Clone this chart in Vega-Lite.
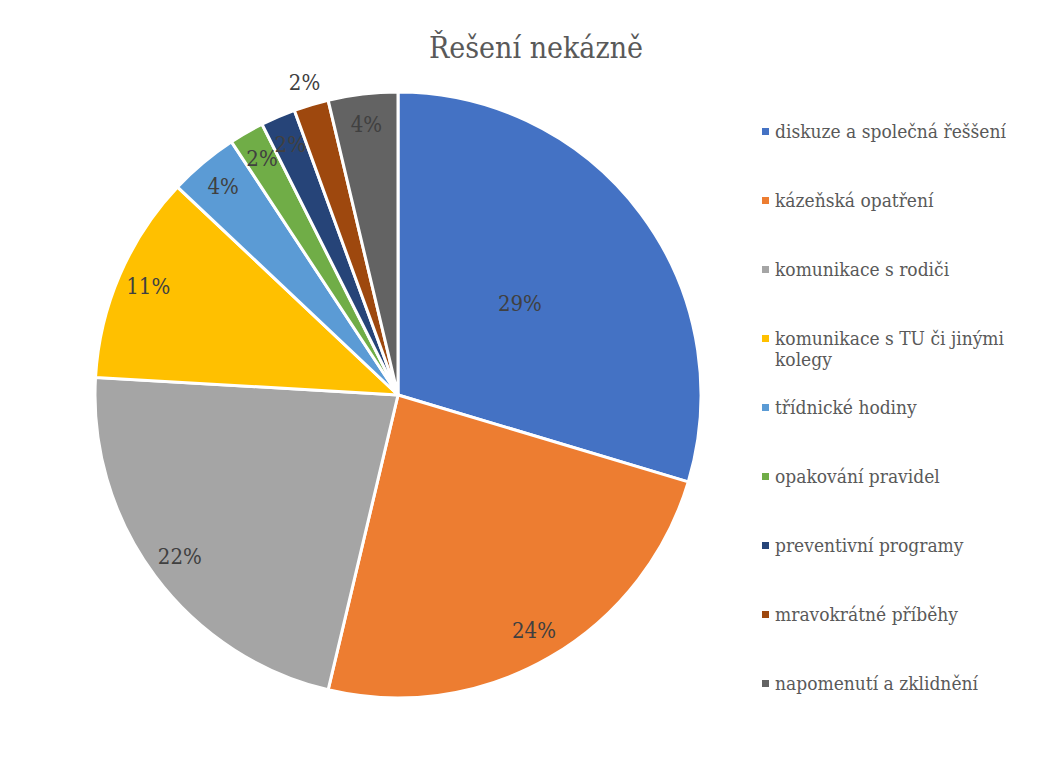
{
  "$schema": "https://vega.github.io/schema/vega-lite/v6.json",
  "width": 780,
  "height": 724,
  "padding": {"left": 8, "top": 33, "right": 0, "bottom": 0},
  "autosize": {"type": "pad"},
  "background": "white",
  "config": {"view": {"stroke": null}},
  "title": {
    "text": "Řešení nekázně",
    "font": "DejaVu Serif Condensed",
    "fontSize": 30,
    "fontWeight": "normal",
    "color": "#595959",
    "anchor": "middle",
    "dx": 138,
    "offset": 0,
    "dy": 55,
    "baseline": "alphabetic"
  },
  "data": {
    "values": [
      {"i": 1, "k": "diskuze a společná řeššení", "n": 16, "label": "29%"},
      {"i": 2, "k": "kázeňská opatření", "n": 13, "label": "24%"},
      {"i": 3, "k": "komunikace s rodiči", "n": 12, "label": "22%"},
      {"i": 4, "k": "komunikace s TU či jinými kolegy", "n": 6, "label": "11%"},
      {"i": 5, "k": "třídnické hodiny", "n": 2, "label": "4%"},
      {"i": 6, "k": "opakování pravidel", "n": 1, "label": "2%"},
      {"i": 7, "k": "preventivní programy", "n": 1, "label": "2%"},
      {"i": 8, "k": "mravokrátné příběhy", "n": 1, "label": "2%"},
      {"i": 9, "k": "napomenutí a zklidnění", "n": 2, "label": "4%"}
    ]
  },
  "encoding": {
    "theta": {"field": "n", "type": "quantitative", "stack": true},
    "order": {"field": "i", "type": "quantitative"}
  },
  "layer": [
    {
      "mark": {"type": "arc", "outerRadius": 303, "stroke": "white", "strokeWidth": 3},
      "encoding": {
        "color": {
          "field": "k",
          "type": "nominal",
          "scale": {
            "domain": ["diskuze a společná řeššení", "kázeňská opatření", "komunikace s rodiči", "komunikace s TU či jinými kolegy", "třídnické hodiny", "opakování pravidel", "preventivní programy", "mravokrátné příběhy", "napomenutí a zklidnění"],
            "range": ["#4472C4", "#ED7D31", "#A5A5A5", "#FFC000", "#5B9BD5", "#70AD47", "#264478", "#9E480E", "#636363"]
          },
          "legend": {
            "orient": "none",
            "legendX": 748,
            "legendY": 89,
            "title": null,
            "symbolType": "square",
            "symbolSize": 49,
            "symbolStrokeWidth": 0,
            "labelFont": "DejaVu Serif Condensed",
            "labelFontSize": 19,
            "labelColor": "#595959",
            "labelOffset": 0,
            "labelLimit": 400,
            "rowPadding": 28,
            "padding": 0,
            "labelExpr": "datum.label == 'komunikace s TU či jinými kolegy' ? ['komunikace s TU či jinými', 'kolegy'] : [datum.label, '']"
          }
        }
      }
    },
    {
      "mark": {"type": "text", "radius": 272, "fontSize": 22, "font": "DejaVu Serif Condensed", "align": "center", "baseline": "middle"},
      "encoding": {
        "detail": {"field": "k", "type": "nominal"},
        "color": {"value": "#404040"},
        "text": {"condition": {"test": "datum.i != 1 && datum.i != 8", "field": "label"}, "value": ""}
      }
    },
    {
      "mark": {"type": "text", "radius": 152, "fontSize": 22, "font": "DejaVu Serif Condensed", "align": "center", "baseline": "middle"},
      "encoding": {
        "detail": {"field": "k", "type": "nominal"},
        "color": {"value": "#404040"},
        "text": {"condition": {"test": "datum.i == 1", "field": "label"}, "value": ""}
      }
    },
    {
      "mark": {"type": "text", "radius": 326, "fontSize": 22, "font": "DejaVu Serif Condensed", "align": "center", "baseline": "middle"},
      "encoding": {
        "detail": {"field": "k", "type": "nominal"},
        "color": {"value": "#404040"},
        "text": {"condition": {"test": "datum.i == 8", "field": "label"}, "value": ""}
      }
    }
  ]
}
